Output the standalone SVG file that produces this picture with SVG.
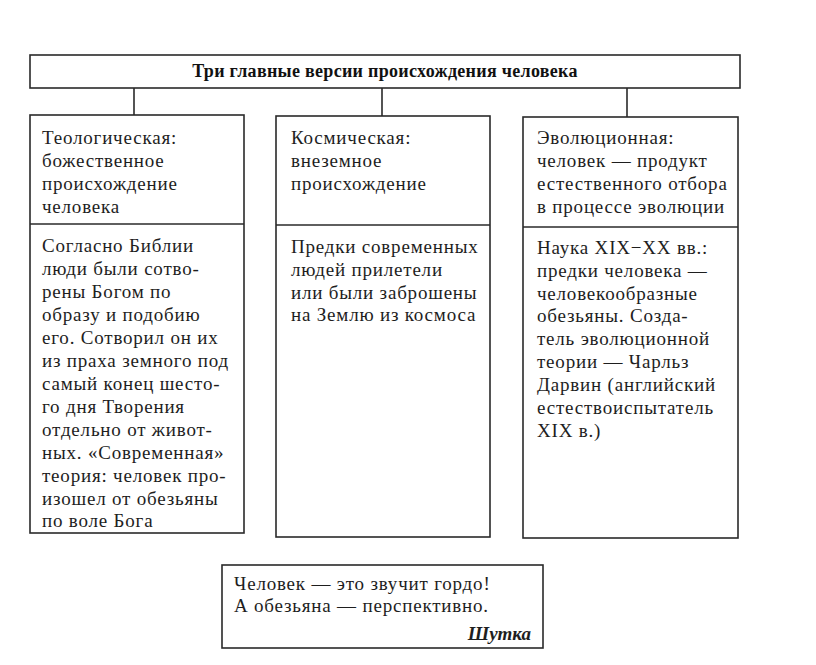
<svg xmlns="http://www.w3.org/2000/svg" width="816" height="665" viewBox="0 0 816 665">
<style>
.box{fill:none;stroke:#2a2a2a;stroke-width:1.6}
.con{fill:none;stroke:#2a2a2a;stroke-width:1.6}
.t{font-family:"Liberation Serif","DejaVu Serif",serif;font-size:19px;letter-spacing:0.8px;fill:#1e1e1e}
.title{font-family:"Liberation Serif","DejaVu Serif",serif;font-size:18px;letter-spacing:0.3px;font-weight:bold;fill:#111}
.sign{font-family:"Liberation Serif","DejaVu Serif",serif;font-size:19px;font-weight:bold;font-style:italic;fill:#1e1e1e}
</style>
<rect width="816" height="665" fill="#fff"/>
<g id="connectors">
<line class="con" x1="134" y1="88" x2="134" y2="115"/>
<line class="con" x1="382" y1="88" x2="382" y2="116"/>
<line class="con" x1="627" y1="88" x2="627" y2="117"/>
</g>
<g id="title">
<rect class="box" x="30" y="55" width="710" height="33"/>
<text class="title" x="385" y="77" text-anchor="middle">Три главные версии происхождения человека</text>
</g>
<g id="theological">
<rect class="box" x="30" y="115" width="214" height="418"/>
<line class="box" x1="30" y1="224" x2="244" y2="224"/>
<text class="t" x="42" y="144">Теологическая:</text>
<text class="t" x="42" y="167">божественное</text>
<text class="t" x="42" y="190">происхождение</text>
<text class="t" x="42" y="213">человека</text>
<text class="t" x="42" y="252">Согласно Библии</text>
<text class="t" x="42" y="275">люди были сотво-</text>
<text class="t" x="42" y="298">рены Богом по</text>
<text class="t" x="42" y="321">образу и подобию</text>
<text class="t" x="42" y="344">его. Сотворил он их</text>
<text class="t" x="42" y="367">из праха земного под</text>
<text class="t" x="42" y="390">самый конец шесто-</text>
<text class="t" x="42" y="413">го дня Творения</text>
<text class="t" x="42" y="436">отдельно от живот-</text>
<text class="t" x="42" y="459">ных. «Современная»</text>
<text class="t" x="42" y="482">теория: человек про-</text>
<text class="t" x="42" y="505">изошел от обезьяны</text>
<text class="t" x="42" y="527">по воле Бога</text>
</g>
<g id="cosmic">
<rect class="box" x="276" y="116" width="214" height="421"/>
<line class="box" x1="276" y1="225" x2="490" y2="225"/>
<text class="t" x="291" y="144">Космическая:</text>
<text class="t" x="291" y="167">внеземное</text>
<text class="t" x="291" y="190">происхождение</text>
<text class="t" x="291" y="253">Предки современных</text>
<text class="t" x="291" y="276">людей прилетели</text>
<text class="t" x="291" y="299">или были заброшены</text>
<text class="t" x="291" y="321">на Землю из космоса</text>
</g>
<g id="evolutionary">
<rect class="box" x="523" y="117" width="215" height="421"/>
<line class="box" x1="523" y1="227" x2="738" y2="227"/>
<text class="t" x="537" y="144">Эволюционная:</text>
<text class="t" x="537" y="167">человек — продукт</text>
<text class="t" x="537" y="190">естественного отбора</text>
<text class="t" x="537" y="213">в процессе эволюции</text>
<text class="t" x="537" y="254">Наука XIX−XX вв.:</text>
<text class="t" x="537" y="277">предки человека —</text>
<text class="t" x="537" y="300">человекообразные</text>
<text class="t" x="537" y="322">обезьяны. Созда-</text>
<text class="t" x="537" y="345">тель эволюционной</text>
<text class="t" x="537" y="368">теории — Чарльз</text>
<text class="t" x="537" y="391">Дарвин (английский</text>
<text class="t" x="537" y="414">естествоиспытатель</text>
<text class="t" x="537" y="437">XIX в.)</text>
</g>
<g id="joke">
<rect class="box" x="222" y="565" width="321" height="83"/>
<text class="t" x="234" y="590">Человек — это звучит гордо!</text>
<text class="t" x="234" y="612">А обезьяна — перспективно.</text>
<text class="sign" x="531" y="640" text-anchor="end">Шутка</text>
</g>
</svg>
